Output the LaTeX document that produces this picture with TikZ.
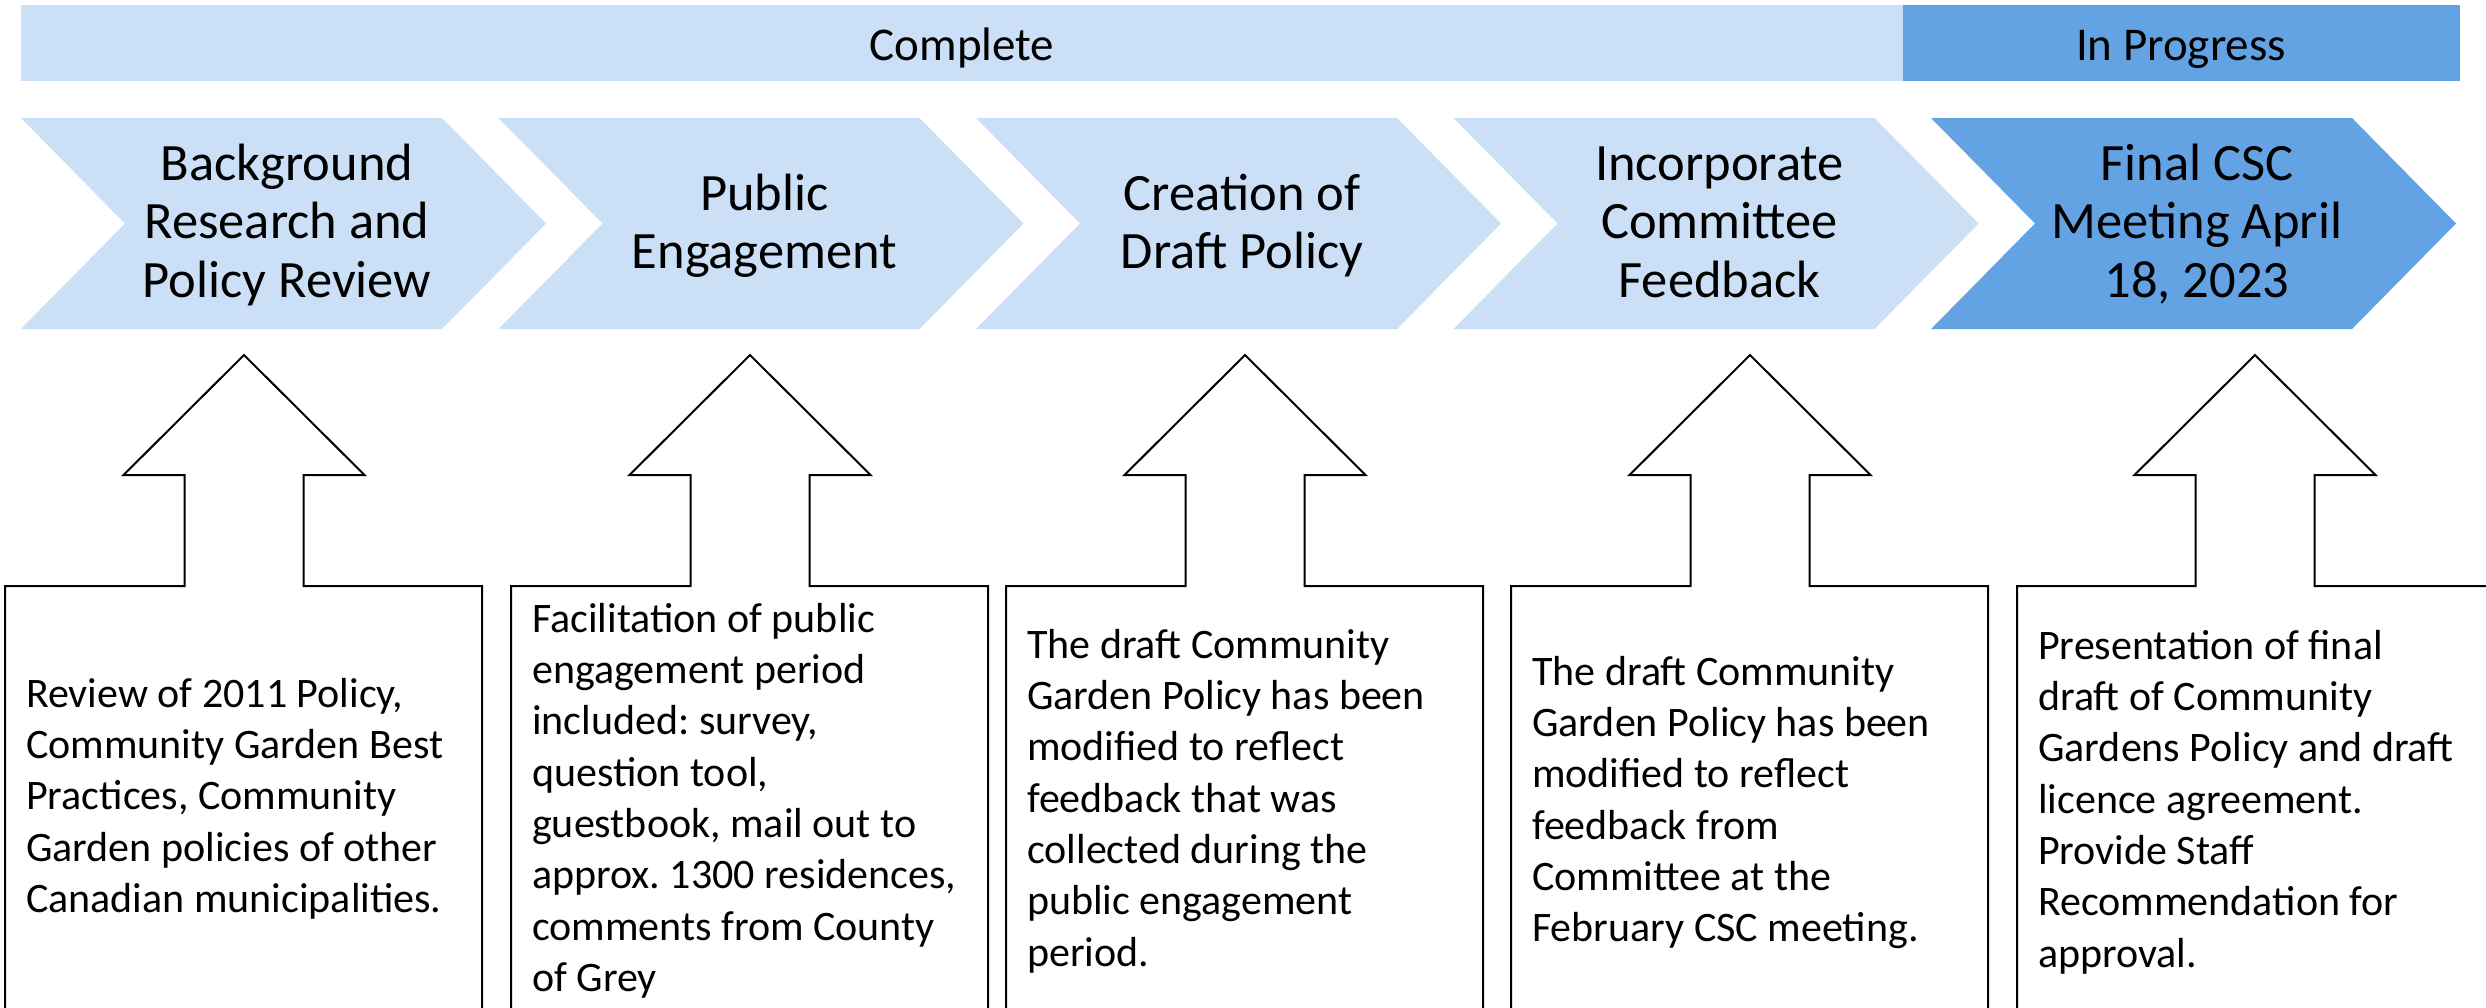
\documentclass[tikz,border=0pt]{standalone}
\usepackage{fontspec}
\setmainfont{Carlito}
\frenchspacing
\definecolor{lightblue}{RGB}{203,224,246}
\definecolor{midblue}{RGB}{99,163,228}
\begin{document}
\begin{tikzpicture}[x=1pt,y=-1pt,
  bartext/.style={anchor=base, inner sep=0pt, font=\fontsize{47}{57}\selectfont},
  chevtext/.style={anchor=north, inner sep=0pt, align=center, font=\fontsize{52.5}{58.5}\selectfont},
  calltext/.style={anchor=north west, inner sep=0pt, align=left, font=\fontsize{42}{51.3}\selectfont\frenchspacing},
  callout/.style={draw=black, line width=2pt, fill=white, line join=miter}]
\useasboundingbox (0,0) rectangle (2486,1007);
\clip (0,0) rectangle (2486,1007);
\fill[white] (0,0) rectangle (2486,1007);
% status bar
\fill[lightblue] (21,5) rectangle (1903,81);
\fill[midblue] (1903,5) rectangle (2460,81);
\node[bartext] (complete) at (962,60) {Complete};
\node[bartext] (inprogress) at (2181,60) {In Progress};
% chevrons
\foreach \x/\c in {21/lightblue, 498.5/lightblue, 976/lightblue, 1453.5/lightblue, 1931/midblue}{
  \fill[\c] (\x,118) -- ++(421,0) -- ++(104,105.5) -- ++(-104,105.5) -- ++(-421,0) -- ++(104,-105.5) -- cycle;
}
\node[chevtext] (s1) at (287,139.05) {\strut Background\\Research and\\Policy Review};
\node[chevtext] (s2) at (764.5,169.05) {\strut Public\\Engagement};
\node[chevtext] (s3) at (1242,169.05) {\strut Creation of\\Draft Policy};
\node[chevtext] (s4) at (1719.5,139.05) {\strut Incorporate\\Committee\\Feedback};
\node[chevtext] (s5) at (2197,139.05) {\strut Final CSC\\Meeting April\\18, 2023};
% callouts
\foreach \L/\cx in {5/244, 511/750, 1006/1245, 1511/1750, 2017/2255}{
  \draw[callout] (\L,586) -- (\cx-59.5,586) -- (\cx-59.5,475) -- (\cx-120.5,475) -- (\cx,355)
    -- (\cx+120.5,475) -- (\cx+59.5,475) -- (\cx+59.5,586) -- (\L+477,586) -- (\L+477,1040)
    -- (\L,1040) -- cycle;
}
\node[calltext] (d1) at (26,671.1) {\strut Review of 2011 Policy,\\Community Garden Best\\Practices, Community\\Garden policies of other\\Canadian municipalities.};
\node[calltext] (d2) at (532,596.1) {\strut Facilitation of public\\engagement period\\included: survey,\\question tool,\\guestbook, mail out to\\approx. 1300 residences,\\comments from County\\of Grey};
\node[calltext] (d3) at (1027,622.1) {\strut The draft Community\\Garden Policy has been\\modified to reflect\\feedback that was\\collected during the\\public engagement\\period.};
\node[calltext] (d4) at (1532,649.1) {\strut The draft Community\\Garden Policy has been\\modified to reflect\\feedback from\\Committee at the\\February CSC meeting.};
\node[calltext] (d5) at (2038,623.1) {\strut Presentation of final\\draft of Community\\Gardens Policy and draft\\licence agreement.\\Provide Staff\\Recommendation for\\approval.};
\end{tikzpicture}
\end{document}
